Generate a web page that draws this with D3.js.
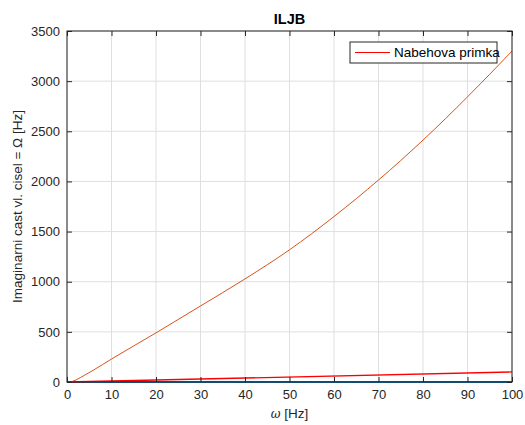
<!doctype html>
<html>
<head>
<script src="https://d3js.org/d3.v7.min.js"></script>
<style>
  body { margin: 0; background: #fff; }
  svg text { font-family: "Liberation Sans", Arial, sans-serif; fill: #262626; }
  .axis path { display: none; }
  .axis text { font-size: 13px; }
</style>
</head>
<body>
<script>
// data
var xTicks = [0, 10, 20, 30, 40, 50, 60, 70, 80, 90, 100];
var yTicks = [0, 500, 1000, 1500, 2000, 2500, 3000, 3500];

// orange curve (imag part of eigenvalue)
var omegaCurve = [1, 2, 3, 4, 6, 10, 20, 30, 40, 50, 60, 70, 80, 90, 100];
var imagCurve  = [2, 20, 44, 69, 120, 229, 490, 758, 1028, 1318, 1650, 2014, 2412, 2843, 3300];

// red "Nabehova primka" line
var omegaLine = [0, 100];
var nabehLine = [0, 100];

// blue line at zero
var omegaZero = [0, 100];
var zeroLine  = [0, 0];

var W = 525, H = 425;
var margin = {top: 31, right: 13, bottom: 43, left: 67};
var w = W - margin.left - margin.right;
var h = H - margin.top - margin.bottom;

var svg = d3.select("body").append("svg")
    .attr("width", W)
    .attr("height", H);

var g = svg.append("g")
    .attr("transform", "translate(" + margin.left + "," + margin.top + ")");

var x = d3.scaleLinear().domain([0, 100]).range([0, w]);
var y = d3.scaleLinear().domain([0, 3500]).range([h, 0]);

// grid
g.append("g").selectAll("line").data(xTicks).enter().append("line")
    .attr("x1", d => x(d)).attr("x2", d => x(d))
    .attr("y1", 0).attr("y2", h)
    .attr("stroke", "#dfdfdf").attr("stroke-width", 1);
g.append("g").selectAll("line").data(yTicks).enter().append("line")
    .attr("y1", d => y(d)).attr("y2", d => y(d))
    .attr("x1", 0).attr("x2", w)
    .attr("stroke", "#dfdfdf").attr("stroke-width", 1);

// lines
var line = d3.line().x(d => x(d[0])).y(d => y(d[1]));
var smooth = d3.line().x(d => x(d[0])).y(d => y(d[1])).curve(d3.curveMonotoneX);

g.append("path")
    .attr("d", line(d3.zip(omegaZero, zeroLine)))
    .attr("fill", "none").attr("stroke", "#0072BD").attr("stroke-width", 2);

g.append("path")
    .attr("d", line(d3.zip(omegaLine, nabehLine)))
    .attr("fill", "none").attr("stroke", "#ff0000").attr("stroke-width", 1.3);

g.append("path")
    .attr("d", smooth(d3.zip(omegaCurve, imagCurve)))
    .attr("fill", "none").attr("stroke", "#D95319").attr("stroke-width", 1);

// axes, MATLAB style ticks inward on all sides
var tickLen = 5;
var fmt = d3.format("d");
g.append("g").attr("class", "axis")
    .attr("transform", "translate(0," + h + ")")
    .call(d3.axisBottom(x).tickValues(xTicks).tickFormat(fmt).tickSizeInner(-tickLen).tickSizeOuter(0).tickPadding(8))
    .selectAll("line").attr("stroke", "#262626");
g.append("g").attr("class", "axis")
    .call(d3.axisTop(x).tickValues(xTicks).tickSizeInner(-tickLen).tickSizeOuter(0).tickFormat(""))
    .selectAll("line").attr("stroke", "#262626");
g.append("g").attr("class", "axis")
    .call(d3.axisLeft(y).tickValues(yTicks).tickFormat(fmt).tickSizeInner(-tickLen).tickSizeOuter(0).tickPadding(7))
    .selectAll("line").attr("stroke", "#262626");
g.append("g").attr("class", "axis")
    .attr("transform", "translate(" + w + ",0)")
    .call(d3.axisRight(y).tickValues(yTicks).tickSizeInner(-tickLen).tickSizeOuter(0).tickFormat(""))
    .selectAll("line").attr("stroke", "#262626");

// box
g.append("rect")
    .attr("x", 0).attr("y", 0).attr("width", w).attr("height", h)
    .attr("fill", "none").attr("stroke", "#262626").attr("stroke-width", 1);

// title and labels
svg.append("text")
    .attr("x", margin.left + w / 2).attr("y", 24)
    .attr("text-anchor", "middle")
    .style("font-size", "14.5px").style("font-weight", "bold")
    .style("fill", "#000")
    .text("ILJB");

var xl = svg.append("text")
    .attr("x", margin.left + w / 2).attr("y", 418)
    .attr("text-anchor", "middle")
    .style("font-size", "13.5px");
xl.append("tspan").style("font-style", "italic").style("font-family", "'DejaVu Serif', serif").style("font-size", "12px").text("\u03c9");
xl.append("tspan").text(" [Hz]");

svg.append("text")
    .attr("transform", "translate(22," + (margin.top + h / 2) + ") rotate(-90)")
    .attr("text-anchor", "middle")
    .style("font-size", "13.5px")
    .text("Imaginarni cast vl. cisel = \u03a9 [Hz]");

// legend
var leg = g.append("g").attr("transform", "translate(" + (w - 162) + ",11)");
leg.append("rect")
    .attr("width", 147).attr("height", 21)
    .attr("fill", "#fff").attr("stroke", "#262626").attr("stroke-width", 1);
leg.append("line")
    .attr("x1", 5).attr("x2", 40).attr("y1", 10.5).attr("y2", 10.5)
    .attr("stroke", "#ff0000").attr("stroke-width", 1);
leg.append("text")
    .attr("x", 44).attr("y", 15)
    .style("font-size", "13.5px")
    .style("fill", "#000")
    .text("Nabehova primka");
</script>
</body>
</html>
